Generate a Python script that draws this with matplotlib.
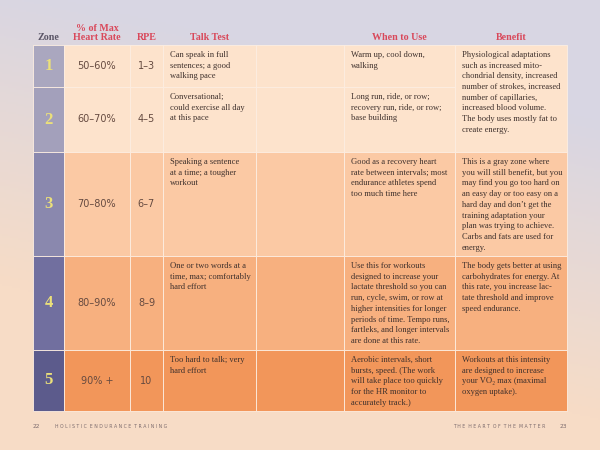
import numpy as np
import matplotlib.pyplot as plt
from matplotlib.patches import Rectangle
from matplotlib.colors import to_rgb

# ------------------------
# Table content
# ------------------------
zones = ["1", "2", "3", "4", "5"]
hr_pct = ["50–60%", "60–70%", "70–80%", "80–90%", "90% +"]
rpe = ["1–3", "4–5", "6–7", "8–9", "10"]
talk_test = [
    "Can speak in full\nsentences; a good\nwalking pace",
    "Conversational;\ncould exercise all day\nat this pace",
    "Speaking a sentence\nat a time; a tougher\nworkout",
    "One or two words at a\ntime, max; comfortably\nhard effort",
    "Too hard to talk; very\nhard effort",
]
when_to_use = [
    "Warm up, cool down,\nwalking",
    "Long run, ride, or row;\nrecovery run, ride, or row;\nbase building",
    "Good as a recovery heart\nrate between intervals; most\nendurance athletes spend\ntoo much time here",
    "Use this for workouts\ndesigned to increase your\nlactate threshold so you can\nrun, cycle, swim, or row at\n"
    "higher intensities for longer\nperiods of time. Tempo runs,\nfartleks, and longer intervals\nare done at this rate.",
    "Aerobic intervals, short\nbursts, speed. (The work\nwill take place too quickly\nfor the HR monitor to\naccurately track.)",
]
# zones 1 and 2 share one benefit cell
benefit = [
    "Physiological adaptations\nsuch as increased mito-\nchondrial density, increased\nnumber of strokes, increased\n"
    "number of capillaries,\nincreased blood volume.\nThe body uses mostly fat to\ncreate energy.",
    "This is a gray zone where\nyou will still benefit, but you\nmay find you go too hard on\nan easy day or too easy on a\n"
    "hard day and don’t get the\ntraining adaptation your\nplan was trying to achieve.\nCarbs and fats are used for\nenergy.",
    "The body gets better at using\ncarbohydrates for energy. At\nthis rate, you increase lac-\ntate threshold and improve\nspeed endurance.",
    "Workouts at this intensity\nare designed to increase\nyour VO₂ max (maximal\noxygen uptake).",
]
benefit_rows = [(0, 2), (2, 3), (3, 4), (4, 5)]
headers = ["Zone", "% of Max\nHeart Rate", "RPE", "Talk Test", "When to Use", "Benefit"]

# ------------------------
# Layout / style
# ------------------------
col_x = [33, 64, 130, 163, 256, 344, 455, 567]
row_y = [45, 87, 152, 256, 350, 411]
cell_colors = ["#fde3cc", "#fde3cc", "#fbc9a4", "#f7b07f", "#f2965a"]
zone_colors = ["#aaa7bf", "#a3a0bb", "#8a88ae", "#716f9f", "#5c5b8c"]
line_col = "#fdeee2"
body_col = "#3e302c"
head_col = "#d9485a"
serif = ["Liberation Serif", "DejaVu Serif"]
body_kw = dict(ha="left", va="top", fontsize=6.1, family=serif, color=body_col,
               linespacing=1.45, zorder=3)

fig = plt.figure(figsize=(6, 4.5), dpi=100)
ax = fig.add_axes([0, 0, 1, 1])
ax.set_xlim(0, 600)
ax.set_ylim(450, 0)
ax.axis("off")

# page background: lavender top fading into peach
xx, yy = np.meshgrid(np.linspace(0, 600, 300), np.linspace(0, 450, 225))
t = np.clip(yy / 450 * 1.5 - xx / 600 * 0.45 + 0.05, 0, 1)[..., None]
top, bot = np.array(to_rgb("#d8d6e3")), np.array(to_rgb("#f7dcc6"))
bg = top * (1 - t) + bot * t
ax.imshow(bg, extent=[0, 600, 450, 0], aspect="auto", zorder=0)

# headers
hx = [(col_x[i] + col_x[i + 1]) / 2 for i in range(len(col_x) - 1)]
hx = [hx[0], hx[1], hx[2], 210, hx[5], hx[6]]
for i, h in enumerate(headers):
    ax.text(hx[i], 42, h, ha="center", va="bottom", fontsize=7.2, weight="bold",
            family=serif, color="#5a5566" if i == 0 else head_col, linespacing=1.0)

# cells
for r in range(len(zones)):
    y0, y1 = row_y[r], row_y[r + 1]
    ax.add_patch(Rectangle((col_x[0], y0), col_x[1] - col_x[0], y1 - y0,
                           facecolor=zone_colors[r], edgecolor=line_col, lw=0.6, zorder=1))
    for c in range(1, 6):
        ax.add_patch(Rectangle((col_x[c], y0), col_x[c + 1] - col_x[c], y1 - y0,
                               facecolor=cell_colors[r], edgecolor=line_col, lw=0.6, zorder=1))
    yc = (y0 + y1) / 2
    ax.text((col_x[0] + col_x[1]) / 2, yc, zones[r], ha="center", va="center", fontsize=12,
            weight="bold", family=serif, color="#ebe07a", zorder=3)
    ax.text((col_x[1] + col_x[2]) / 2, yc, hr_pct[r], ha="center", va="center", fontsize=7,
            color="#654a40", zorder=3)
    ax.text((col_x[2] + col_x[3]) / 2, yc, rpe[r], ha="center", va="center", fontsize=7,
            color="#654a40", zorder=3)
    ax.text(col_x[3] + 7, y0 + 6, talk_test[r], **body_kw)
    ax.text(col_x[5] + 7, y0 + 6, when_to_use[r], **body_kw)

for txt, (r0, r1) in zip(benefit, benefit_rows):
    y0, y1 = row_y[r0], row_y[r1]
    ax.add_patch(Rectangle((col_x[6], y0), col_x[7] - col_x[6], y1 - y0,
                           facecolor=cell_colors[r0], edgecolor=line_col, lw=0.6, zorder=2))
    ax.text(col_x[6] + 7, y0 + 6, txt, **body_kw)

# footer
foot = "#7b6a6c"
ax.text(33, 427, "22", fontsize=4.2, color=foot, va="center")
ax.text(55, 427, "H O L I S T I C  E N D U R A N C E  T R A I N I N G", fontsize=3.3,
        color=foot, va="center")
ax.text(545, 427, "T H E  H E A R T  O F  T H E  M A T T E R", fontsize=3.3,
        color=foot, va="center", ha="right")
ax.text(567, 427, "23", fontsize=4.2, color=foot, va="center", ha="right")

plt.savefig("out.png", dpi=100)
